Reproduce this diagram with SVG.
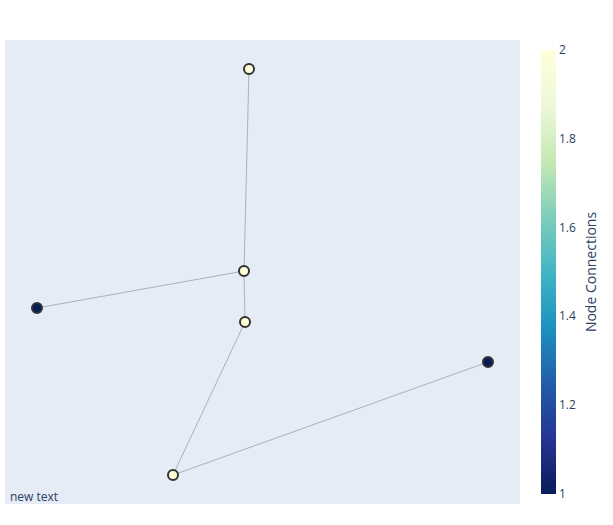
<svg xmlns="http://www.w3.org/2000/svg" width="613" height="525" viewBox="0 0 613 525">
<defs>
<linearGradient id="cb" x1="0" y1="1" x2="0" y2="0">
<stop offset="0" stop-color="rgb(8,29,88)"/>
<stop offset="0.125" stop-color="rgb(37,52,148)"/>
<stop offset="0.25" stop-color="rgb(34,94,168)"/>
<stop offset="0.375" stop-color="rgb(29,145,192)"/>
<stop offset="0.5" stop-color="rgb(65,182,196)"/>
<stop offset="0.625" stop-color="rgb(127,205,187)"/>
<stop offset="0.75" stop-color="rgb(199,233,180)"/>
<stop offset="0.875" stop-color="rgb(237,248,217)"/>
<stop offset="1" stop-color="rgb(255,255,217)"/>
</linearGradient>
<style>
.edge{stroke:#888;stroke-width:0.6;fill:none}
.node{stroke:rgb(50,50,50);stroke-width:2}
.hi{fill:rgb(255,255,217)}
.lo{fill:rgb(8,29,88)}
text{font-family:"Open Sans","Liberation Sans",sans-serif;font-size:12px;fill:#2a3f5f}
</style>
</defs>
<rect x="0" y="0" width="613" height="525" fill="#fff"/>
<rect x="5" y="40" width="515" height="464" fill="#e5ecf6"/>
<g id="edges">
<line class="edge" x1="249" y1="69" x2="244" y2="271"/>
<line class="edge" x1="244" y1="271" x2="37" y2="308"/>
<line class="edge" x1="244" y1="271" x2="245" y2="322"/>
<line class="edge" x1="245" y1="322" x2="173" y2="475"/>
<line class="edge" x1="173" y1="475" x2="488" y2="362"/>
</g>
<g id="n1"><circle class="node hi" cx="249" cy="69" r="5"/></g>
<g id="n2"><circle class="node hi" cx="244" cy="271" r="5"/></g>
<g id="n3"><circle class="node hi" cx="245" cy="322" r="5"/></g>
<g id="n4"><circle class="node lo" cx="37" cy="308" r="5"/></g>
<g id="n5"><circle class="node lo" cx="488" cy="362" r="5"/></g>
<g id="n6"><circle class="node hi" cx="173" cy="475" r="5"/></g>
<text x="10" y="501">new text</text>
<g id="colorbar">
<rect x="541" y="50" width="15" height="444" fill="url(#cb)"/>
<text x="559" y="54">2</text>
<text x="559" y="143">1.8</text>
<text x="559" y="232">1.6</text>
<text x="559" y="320">1.4</text>
<text x="559" y="409">1.2</text>
<text x="559" y="498">1</text>
<text x="0" y="0" font-size="14" style="font-size:14px" text-anchor="middle" transform="translate(596,272) rotate(-90)">Node Connections</text>
</g>
</svg>
